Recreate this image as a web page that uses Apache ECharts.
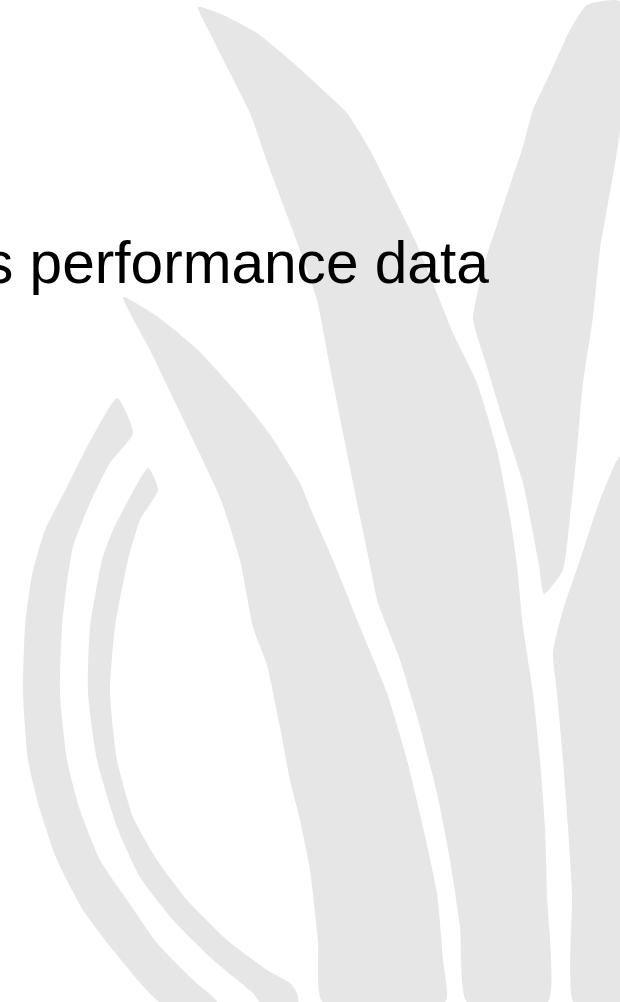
<!DOCTYPE html>
<html>
<head>
<meta charset="utf-8">
<script src="https://cdn.jsdelivr.net/npm/echarts@6/dist/echarts.min.js"></script>
<style>
html,body{margin:0;padding:0;background:#fff;}
#chart{width:620px;height:1002px;}
</style>
</head>
<body>
<div id="chart"></div>
<script>
// Title text (the only text on the slide)
const titleText = "s performance data";

// Decorative leaf outlines, in picture units (x: 0-620, y: 0-1002 from top)
const leafRight = [[587,5],[620,2],[620,130],[600,250],[593,317],[583,383],[577,450],[570,517],[563,570],[544,594],
  [539,565],[523,483],[507,433],[487,367],[473,320],[477,295],[487,255],[498,222],[510,185],[522,150],[533,110],[553,67],[570,30]];
const leafCentre = [[198,7],[223,15],[257,33],[290,60],[323,90],[347,113],[370,150],[395,200],[415,240],[433,283],[453,333],[477,383],
  [497,450],[510,517],[517,565],[523,627],[533,693],[540,760],[545,827],[547,893],[548,1002],
  [467,1002],[460,927],[450,860],[437,793],[420,727],[400,660],[378,603],[370,565],[360,517],[343,433],[330,367],[317,300],
  [300,250],[269,167],[250,113],[230,73],[210,33]];
const leafMiddle = [[123,297],[158,317],[198,350],[237,393],[269,433],[300,483],[312,512],[333,560],[360,627],[387,693],[407,760],
  [423,827],[437,893],[443,960],[445,1002],[323,1002],[318,940],[310,870],[300,820],[290,780],[280,727],[267,665],[253,627],
  [240,560],[221,500],[198,450],[174,400],[150,350]];
const leafFarRight = [[620,457],[600,500],[580,560],[563,610],[553,653],[557,693],[563,760],[568,827],[572,893],[573,1002],[620,1002]];
const arcOuter = [[117,398],[133,433],[110,463],[90,503],[73,547],[66,590],[62,627],[60,693],[67,760],[80,810],[100,860],[127,900],
  [157,943],[193,980],[217,1002],[160,1002],[113,950],[83,910],[57,860],[40,810],[28,760],[23,693],[25,627],[32,575],[45,530],
  [67,487],[87,447]];
const arcInner = [[148,468],[158,490],[140,520],[128,560],[115,627],[110,693],[117,760],[133,817],[157,860],[187,900],[227,940],
  [267,970],[290,983],[297,993],[298,1002],[260,1002],[253,993],[213,960],[173,920],[140,877],[117,827],[97,760],[88,693],
  [90,627],[102,560],[113,530],[130,497]];

const shapes = [leafRight, leafCentre, leafMiddle, leafFarRight, arcOuter, arcInner];

const chart = echarts.init(document.getElementById('chart'), null, {renderer: 'canvas'});
chart.setOption({
  animation: false,
  backgroundColor: '#ffffff',
  grid: {left: 0, right: 0, top: 0, bottom: 0},
  xAxis: {type: 'value', min: 0, max: 620, show: false},
  yAxis: {type: 'value', min: 0, max: 1002, inverse: true, show: false},
  series: [{
    type: 'custom',
    coordinateSystem: 'cartesian2d',
    silent: true,
    data: shapes.map((s, i) => [i]),
    renderItem: function (params, api) {
      const pts = shapes[params.dataIndex].map(p => api.coord(p));
      return {
        type: 'polygon',
        shape: {points: pts, smooth: 0.18},
        style: {fill: '#e6e6e6', stroke: null}
      };
    }
  }],
  graphic: [{
    type: 'text',
    left: -16,
    top: 237,
    z: 10,
    style: {
      text: titleText,
      fill: '#000000',
      font: '58.6px "Liberation Sans", Arial, sans-serif'
    }
  }]
});
</script>
</body>
</html>
